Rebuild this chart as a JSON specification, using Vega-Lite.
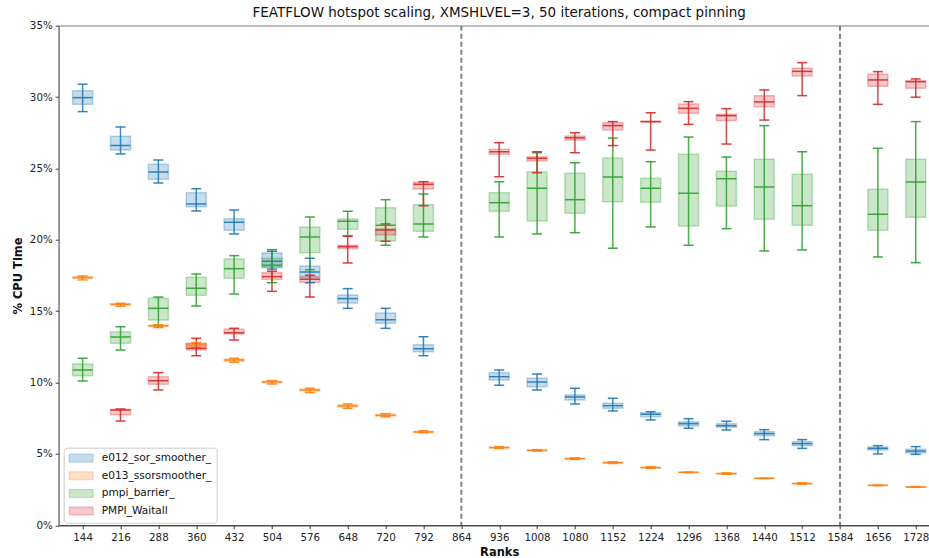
{
  "$schema": "https://vega.github.io/schema/vega-lite/v6.json",
  "autosize": {"type": "none"},
  "padding": {"left": 58.7, "top": 25.7, "right": 0, "bottom": 33},
  "width": 881,
  "height": 499.6,
  "title": {"text": "FEATFLOW hotspot scaling, XMSHLVEL=3, 50 iterations, compact pinning", "font": "DejaVu Sans", "fontSize": 13.5, "fontWeight": "normal", "color": "#111", "anchor": "middle", "baseline": "alphabetic", "offset": 7, "dy": 17},
  "config": {
    "view": {"stroke": "#808080", "strokeWidth": 1.2},
    "font": "DejaVu Sans",
    "axis": {"labelFont": "DejaVu Sans", "labelFontSize": 10.3, "labelColor": "#222", "titleFont": "DejaVu Sans", "titleFontSize": 11.5, "titleFontWeight": "bold", "titleColor": "#111", "tickSize": 3.5, "tickColor": "#333", "tickWidth": 1, "grid": false}
  },
  "datasets": {
    "boxes": [
      {"rank": 144, "s": "e012_sor_smoother_", "lo": 28.98, "q1": 29.49, "med": 29.96, "q3": 30.45, "hi": 30.9},
      {"rank": 216, "s": "e012_sor_smoother_", "lo": 26.01, "q1": 26.29, "med": 26.6, "q3": 27.25, "hi": 27.9},
      {"rank": 288, "s": "e012_sor_smoother_", "lo": 23.98, "q1": 24.24, "med": 24.75, "q3": 25.29, "hi": 25.59},
      {"rank": 360, "s": "e012_sor_smoother_", "lo": 22.02, "q1": 22.32, "med": 22.51, "q3": 23.3, "hi": 23.58},
      {"rank": 432, "s": "e012_sor_smoother_", "lo": 20.41, "q1": 20.67, "med": 21.23, "q3": 21.48, "hi": 22.09},
      {"rank": 504, "s": "e012_sor_smoother_", "lo": 17.95, "q1": 18.1, "med": 18.5, "q3": 19.08, "hi": 19.2},
      {"rank": 576, "s": "e012_sor_smoother_", "lo": 17.0, "q1": 17.42, "med": 17.75, "q3": 18.17, "hi": 18.7},
      {"rank": 648, "s": "e012_sor_smoother_", "lo": 15.2, "q1": 15.57, "med": 15.88, "q3": 16.13, "hi": 16.58},
      {"rank": 720, "s": "e012_sor_smoother_", "lo": 13.8, "q1": 14.15, "med": 14.4, "q3": 14.87, "hi": 15.2},
      {"rank": 792, "s": "e012_sor_smoother_", "lo": 11.88, "q1": 12.16, "med": 12.37, "q3": 12.65, "hi": 13.21},
      {"rank": 936, "s": "e012_sor_smoother_", "lo": 9.81, "q1": 10.18, "med": 10.41, "q3": 10.69, "hi": 10.88},
      {"rank": 1008, "s": "e012_sor_smoother_", "lo": 9.48, "q1": 9.71, "med": 10.04, "q3": 10.3, "hi": 10.6},
      {"rank": 1080, "s": "e012_sor_smoother_", "lo": 8.5, "q1": 8.78, "med": 8.99, "q3": 9.13, "hi": 9.6},
      {"rank": 1152, "s": "e012_sor_smoother_", "lo": 8.01, "q1": 8.2, "med": 8.38, "q3": 8.55, "hi": 8.9},
      {"rank": 1224, "s": "e012_sor_smoother_", "lo": 7.38, "q1": 7.61, "med": 7.78, "q3": 7.89, "hi": 7.96},
      {"rank": 1296, "s": "e012_sor_smoother_", "lo": 6.8, "q1": 6.96, "med": 7.12, "q3": 7.26, "hi": 7.47},
      {"rank": 1368, "s": "e012_sor_smoother_", "lo": 6.68, "q1": 6.87, "med": 6.98, "q3": 7.12, "hi": 7.29},
      {"rank": 1440, "s": "e012_sor_smoother_", "lo": 6.0, "q1": 6.28, "med": 6.42, "q3": 6.56, "hi": 6.7},
      {"rank": 1512, "s": "e012_sor_smoother_", "lo": 5.39, "q1": 5.58, "med": 5.72, "q3": 5.86, "hi": 6.0},
      {"rank": 1656, "s": "e012_sor_smoother_", "lo": 5.0, "q1": 5.28, "med": 5.39, "q3": 5.49, "hi": 5.58},
      {"rank": 1728, "s": "e012_sor_smoother_", "lo": 4.97, "q1": 5.07, "med": 5.2, "q3": 5.32, "hi": 5.51},
      {"rank": 144, "s": "e013_ssorsmoother_", "lo": 17.19, "q1": 17.3, "med": 17.35, "q3": 17.42, "hi": 17.47},
      {"rank": 216, "s": "e013_ssorsmoother_", "lo": 15.35, "q1": 15.42, "med": 15.48, "q3": 15.52, "hi": 15.55},
      {"rank": 288, "s": "e013_ssorsmoother_", "lo": 13.85, "q1": 13.92, "med": 13.98, "q3": 14.02, "hi": 14.05},
      {"rank": 360, "s": "e013_ssorsmoother_", "lo": 12.45, "q1": 12.55, "med": 12.63, "q3": 12.72, "hi": 12.8},
      {"rank": 432, "s": "e013_ssorsmoother_", "lo": 11.42, "q1": 11.5, "med": 11.58, "q3": 11.65, "hi": 11.7},
      {"rank": 504, "s": "e013_ssorsmoother_", "lo": 9.9, "q1": 9.98, "med": 10.05, "q3": 10.1, "hi": 10.13},
      {"rank": 576, "s": "e013_ssorsmoother_", "lo": 9.3, "q1": 9.4, "med": 9.48, "q3": 9.55, "hi": 9.6},
      {"rank": 648, "s": "e013_ssorsmoother_", "lo": 8.2, "q1": 8.3, "med": 8.36, "q3": 8.45, "hi": 8.5},
      {"rank": 720, "s": "e013_ssorsmoother_", "lo": 7.6, "q1": 7.65, "med": 7.7, "q3": 7.78, "hi": 7.82},
      {"rank": 792, "s": "e013_ssorsmoother_", "lo": 6.48, "q1": 6.5, "med": 6.54, "q3": 6.58, "hi": 6.62},
      {"rank": 936, "s": "e013_ssorsmoother_", "lo": 5.38, "q1": 5.42, "med": 5.44, "q3": 5.48, "hi": 5.5},
      {"rank": 1008, "s": "e013_ssorsmoother_", "lo": 5.2, "q1": 5.23, "med": 5.25, "q3": 5.28, "hi": 5.3},
      {"rank": 1080, "s": "e013_ssorsmoother_", "lo": 4.62, "q1": 4.64, "med": 4.67, "q3": 4.7, "hi": 4.72},
      {"rank": 1152, "s": "e013_ssorsmoother_", "lo": 4.33, "q1": 4.36, "med": 4.39, "q3": 4.42, "hi": 4.45},
      {"rank": 1224, "s": "e013_ssorsmoother_", "lo": 4.0, "q1": 4.02, "med": 4.04, "q3": 4.07, "hi": 4.1},
      {"rank": 1296, "s": "e013_ssorsmoother_", "lo": 3.69, "q1": 3.7, "med": 3.71, "q3": 3.72, "hi": 3.73},
      {"rank": 1368, "s": "e013_ssorsmoother_", "lo": 3.58, "q1": 3.6, "med": 3.62, "q3": 3.65, "hi": 3.67},
      {"rank": 1440, "s": "e013_ssorsmoother_", "lo": 3.28, "q1": 3.29, "med": 3.29, "q3": 3.3, "hi": 3.3},
      {"rank": 1512, "s": "e013_ssorsmoother_", "lo": 2.88, "q1": 2.9, "med": 2.92, "q3": 2.95, "hi": 2.98},
      {"rank": 1656, "s": "e013_ssorsmoother_", "lo": 2.78, "q1": 2.79, "med": 2.8, "q3": 2.8, "hi": 2.81},
      {"rank": 1728, "s": "e013_ssorsmoother_", "lo": 2.66, "q1": 2.67, "med": 2.68, "q3": 2.7, "hi": 2.71},
      {"rank": 144, "s": "pmpi_barrier_", "lo": 10.11, "q1": 10.48, "med": 10.88, "q3": 11.3, "hi": 11.7},
      {"rank": 216, "s": "pmpi_barrier_", "lo": 12.28, "q1": 12.75, "med": 13.19, "q3": 13.56, "hi": 13.91},
      {"rank": 288, "s": "pmpi_barrier_", "lo": 13.98, "q1": 14.38, "med": 15.2, "q3": 15.9, "hi": 15.99},
      {"rank": 360, "s": "pmpi_barrier_", "lo": 15.36, "q1": 16.11, "med": 16.6, "q3": 17.37, "hi": 17.6},
      {"rank": 432, "s": "pmpi_barrier_", "lo": 16.2, "q1": 17.3, "med": 17.98, "q3": 18.66, "hi": 18.89},
      {"rank": 504, "s": "pmpi_barrier_", "lo": 17.0, "q1": 18.05, "med": 18.22, "q3": 18.7, "hi": 19.31},
      {"rank": 576, "s": "pmpi_barrier_", "lo": 17.9, "q1": 19.1, "med": 20.2, "q3": 20.9, "hi": 21.6},
      {"rank": 648, "s": "pmpi_barrier_", "lo": 20.27, "q1": 20.74, "med": 21.3, "q3": 21.46, "hi": 22.0},
      {"rank": 720, "s": "pmpi_barrier_", "lo": 19.62, "q1": 19.92, "med": 21.02, "q3": 22.25, "hi": 22.81},
      {"rank": 792, "s": "pmpi_barrier_", "lo": 20.2, "q1": 20.6, "med": 21.11, "q3": 22.46, "hi": 23.21},
      {"rank": 936, "s": "pmpi_barrier_", "lo": 20.2, "q1": 22.0, "med": 22.6, "q3": 23.3, "hi": 24.07},
      {"rank": 1008, "s": "pmpi_barrier_", "lo": 20.41, "q1": 21.32, "med": 23.61, "q3": 24.77, "hi": 26.1},
      {"rank": 1080, "s": "pmpi_barrier_", "lo": 20.5, "q1": 21.86, "med": 22.81, "q3": 24.66, "hi": 25.4},
      {"rank": 1152, "s": "pmpi_barrier_", "lo": 19.41, "q1": 22.67, "med": 24.4, "q3": 25.73, "hi": 27.13},
      {"rank": 1224, "s": "pmpi_barrier_", "lo": 20.9, "q1": 22.63, "med": 23.61, "q3": 24.31, "hi": 25.47},
      {"rank": 1296, "s": "pmpi_barrier_", "lo": 19.62, "q1": 20.97, "med": 23.26, "q3": 25.99, "hi": 27.2},
      {"rank": 1368, "s": "pmpi_barrier_", "lo": 20.78, "q1": 22.37, "med": 24.28, "q3": 24.8, "hi": 25.8},
      {"rank": 1440, "s": "pmpi_barrier_", "lo": 19.22, "q1": 21.44, "med": 23.7, "q3": 25.64, "hi": 28.0},
      {"rank": 1512, "s": "pmpi_barrier_", "lo": 19.29, "q1": 21.02, "med": 22.39, "q3": 24.59, "hi": 26.17},
      {"rank": 1656, "s": "pmpi_barrier_", "lo": 18.8, "q1": 20.67, "med": 21.79, "q3": 23.54, "hi": 26.41},
      {"rank": 1728, "s": "pmpi_barrier_", "lo": 18.4, "q1": 21.58, "med": 24.05, "q3": 25.64, "hi": 28.28},
      {"rank": 216, "s": "PMPI_Waitall", "lo": 7.31, "q1": 7.75, "med": 8.08, "q3": 8.12, "hi": 8.15},
      {"rank": 288, "s": "PMPI_Waitall", "lo": 9.48, "q1": 9.88, "med": 10.13, "q3": 10.41, "hi": 10.69},
      {"rank": 360, "s": "PMPI_Waitall", "lo": 11.88, "q1": 12.28, "med": 12.4, "q3": 12.75, "hi": 13.1},
      {"rank": 432, "s": "PMPI_Waitall", "lo": 12.98, "q1": 13.4, "med": 13.49, "q3": 13.73, "hi": 13.8},
      {"rank": 504, "s": "PMPI_Waitall", "lo": 16.39, "q1": 17.23, "med": 17.42, "q3": 17.7, "hi": 17.8},
      {"rank": 576, "s": "PMPI_Waitall", "lo": 16.0, "q1": 17.02, "med": 17.23, "q3": 17.4, "hi": 17.51},
      {"rank": 648, "s": "PMPI_Waitall", "lo": 18.38, "q1": 19.4, "med": 19.52, "q3": 19.62, "hi": 20.25},
      {"rank": 720, "s": "PMPI_Waitall", "lo": 19.9, "q1": 20.34, "med": 20.69, "q3": 20.76, "hi": 21.11},
      {"rank": 792, "s": "PMPI_Waitall", "lo": 22.39, "q1": 23.56, "med": 23.89, "q3": 24.03, "hi": 24.07},
      {"rank": 936, "s": "PMPI_Waitall", "lo": 24.42, "q1": 26.0, "med": 26.17, "q3": 26.34, "hi": 26.8},
      {"rank": 1008, "s": "PMPI_Waitall", "lo": 24.7, "q1": 25.52, "med": 25.71, "q3": 25.82, "hi": 26.17},
      {"rank": 1080, "s": "PMPI_Waitall", "lo": 26.1, "q1": 26.99, "med": 27.15, "q3": 27.27, "hi": 27.5},
      {"rank": 1152, "s": "PMPI_Waitall", "lo": 26.6, "q1": 27.7, "med": 28.0, "q3": 28.2, "hi": 28.28},
      {"rank": 1224, "s": "PMPI_Waitall", "lo": 26.29, "q1": 28.25, "med": 28.28, "q3": 28.31, "hi": 28.9},
      {"rank": 1296, "s": "PMPI_Waitall", "lo": 28.09, "q1": 28.86, "med": 29.21, "q3": 29.52, "hi": 29.68},
      {"rank": 1368, "s": "PMPI_Waitall", "lo": 26.71, "q1": 28.35, "med": 28.7, "q3": 28.79, "hi": 29.19},
      {"rank": 1440, "s": "PMPI_Waitall", "lo": 28.39, "q1": 29.33, "med": 29.66, "q3": 30.1, "hi": 30.5},
      {"rank": 1512, "s": "PMPI_Waitall", "lo": 30.1, "q1": 31.48, "med": 31.8, "q3": 32.02, "hi": 32.41},
      {"rank": 1656, "s": "PMPI_Waitall", "lo": 29.49, "q1": 30.75, "med": 31.2, "q3": 31.6, "hi": 31.78},
      {"rank": 1728, "s": "PMPI_Waitall", "lo": 29.99, "q1": 30.62, "med": 31.08, "q3": 31.15, "hi": 31.27}
    ],
    "seps": [{"x": 864}, {"x": 1584}]
  },
  "layer": [
    {
      "data": {"name": "seps"},
      "mark": {"type": "rule", "color": "#808080", "strokeWidth": 2, "strokeDash": [5, 3]},
      "encoding": {
        "x": {"field": "x", "type": "quantitative", "scale": {"domain": [108, 1764], "nice": false, "zero": false}}
      }
    },
    {
      "data": {"name": "boxes"},
      "mark": {"type": "bar", "orient": "vertical", "size": 20, "fillOpacity": 0.25, "strokeOpacity": 0.3, "strokeWidth": 1.5},
      "encoding": {
        "x": {"field": "rank", "type": "quantitative", "scale": {"domain": [108, 1764], "nice": false, "zero": false},
              "axis": {"values": [144, 216, 288, 360, 432, 504, 576, 648, 720, 792, 864, 936, 1008, 1080, 1152, 1224, 1296, 1368, 1440, 1512, 1584, 1656, 1728], "format": "d", "title": "Ranks", "domainColor": "#333", "labelPadding": 4, "titlePadding": 3.5}},
        "y": {"field": "q1", "type": "quantitative", "scale": {"domain": [0, 35], "nice": false},
              "axis": {"values": [0, 5, 10, 15, 20, 25, 30, 35], "labelExpr": "datum.value + '%'", "title": "% CPU Time", "domainColor": "#808080", "labelPadding": 3, "titlePadding": 6}},
        "y2": {"field": "q3"},
        "color": {"field": "s", "type": "nominal",
                  "scale": {"domain": ["e012_sor_smoother_", "e013_ssorsmoother_", "pmpi_barrier_", "PMPI_Waitall"], "range": ["#1f77b4", "#ff7f0e", "#2ca02c", "#d62728"]},
                  "legend": {"title": null, "orient": "none", "legendX": 5, "legendY": 422, "padding": 5, "fillColor": "rgba(255,255,255,0.8)", "strokeColor": "#cccccc", "cornerRadius": 3,
                             "symbolType": "M-1,-0.8H3.8V0.8H-1Z", "symbolSize": 100, "symbolStrokeWidth": 1,
                             "labelFont": "DejaVu Sans", "labelFontSize": 10.6, "labelColor": "#111", "labelOffset": 22, "rowPadding": 4.6,
                             "encode": {"symbols": {"update": {"fill": {"scale": "color", "field": "value"}, "fillOpacity": {"value": 0.25}, "stroke": {"scale": "color", "field": "value"}, "strokeOpacity": {"value": 0.3}, "opacity": {"value": 1}}}}}},
        "stroke": {"field": "s", "type": "nominal", "legend": null,
                   "scale": {"domain": ["e012_sor_smoother_", "e013_ssorsmoother_", "pmpi_barrier_", "PMPI_Waitall"], "range": ["#1f77b4", "#ff7f0e", "#2ca02c", "#d62728"]}}
      }
    },
    {
      "data": {"name": "boxes"},
      "mark": {"type": "rule", "strokeWidth": 1.5, "opacity": 0.85},
      "encoding": {
        "x": {"field": "rank", "type": "quantitative"},
        "y": {"field": "lo", "type": "quantitative"},
        "y2": {"field": "hi"},
        "color": {"field": "s", "type": "nominal"}
      }
    },
    {
      "data": {"name": "boxes"},
      "mark": {"type": "tick", "orient": "horizontal", "size": 10, "thickness": 1.5, "opacity": 0.9},
      "encoding": {
        "x": {"field": "rank", "type": "quantitative"},
        "y": {"field": "lo", "type": "quantitative"},
        "color": {"field": "s", "type": "nominal"}
      }
    },
    {
      "data": {"name": "boxes"},
      "mark": {"type": "tick", "orient": "horizontal", "size": 10, "thickness": 1.5, "opacity": 0.9},
      "encoding": {
        "x": {"field": "rank", "type": "quantitative"},
        "y": {"field": "hi", "type": "quantitative"},
        "color": {"field": "s", "type": "nominal"}
      }
    },
    {
      "data": {"name": "boxes"},
      "mark": {"type": "tick", "orient": "horizontal", "size": 20, "thickness": 1.5, "opacity": 0.9},
      "encoding": {
        "x": {"field": "rank", "type": "quantitative"},
        "y": {"field": "med", "type": "quantitative"},
        "color": {"field": "s", "type": "nominal"}
      }
    }
  ]
}
